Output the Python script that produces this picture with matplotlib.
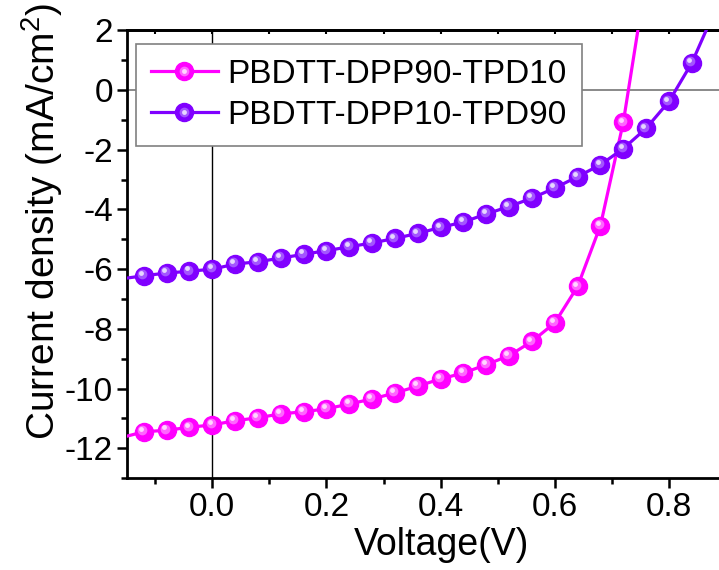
import numpy as np
import matplotlib
matplotlib.use('Agg')
import matplotlib.pyplot as plt
from matplotlib.ticker import MultipleLocator, FormatStrFormatter
from matplotlib.legend_handler import HandlerTuple
import matplotlib.transforms as mtransforms

plt.rcParams['font.family'] = ['Liberation Sans', 'DejaVu Sans']
plt.rcParams['mathtext.fontset'] = 'custom'
plt.rcParams['mathtext.rm'] = 'Liberation Sans'
plt.rcParams['mathtext.default'] = 'regular'
plt.rcParams['axes.unicode_minus'] = False

# measured points (V, mA/cm2)
voltage = [-0.12, -0.08, -0.04, 0.00, 0.04, 0.08, 0.12, 0.16, 0.20, 0.24, 0.28,
           0.32, 0.36, 0.40, 0.44, 0.48, 0.52, 0.56, 0.60, 0.64, 0.68, 0.72,
           0.76, 0.80, 0.84]
j_dpp90 = [-11.45, -11.40, -11.30, -11.22, -11.08, -10.98, -10.85, -10.78,
           -10.68, -10.52, -10.35, -10.15, -9.92, -9.68, -9.48, -9.20, -8.90,
           -8.42, -7.80, -6.58, -4.54, -1.08]
j_dpp10 = [-6.22, -6.13, -6.07, -6.00, -5.83, -5.75, -5.63, -5.50, -5.38,
           -5.25, -5.12, -4.97, -4.80, -4.60, -4.42, -4.15, -3.90, -3.62,
           -3.28, -2.90, -2.50, -1.96, -1.28, -0.38, 0.91]

# ends of the fitted curves outside the marker range
v_start = -0.15
j90_start, j10_start = -11.6, -6.3
v90_end, j90_end = 0.748, 2.3
v10_end, j10_end = 0.872, 2.3

labels = ['PBDTT-DPP90-TPD10', 'PBDTT-DPP10-TPD90']
colors = ['#FF00FF', '#8000FF']
mids = ['#FF66FF', '#A355FF']
hilite = ['#FFD6FF', '#E6D6FF']

fig = plt.figure(figsize=(7.19, 5.70), dpi=100)
ax = fig.add_axes([0.1762, 0.1614, 0.8238, 0.7851])

ax.axhline(0, color='#808080', lw=1.3, zorder=1)
ax.axvline(0, color='black', lw=1.0, zorder=1)

series = [(voltage[:len(j_dpp90)], j_dpp90, j90_start, v90_end, j90_end),
          (voltage, j_dpp10, j10_start, v10_end, j10_end)]
handles = []
off1 = mtransforms.offset_copy(ax.transData, fig=fig, x=-1.2, y=1.2, units='points')
off2 = mtransforms.offset_copy(ax.transData, fig=fig, x=-2.0, y=2.0, units='points')
for i, (v, j, js, ve, je) in enumerate(series):
    lx = [v_start] + list(v) + [ve]
    ly = [js] + list(j) + [je]
    ax.plot(lx, ly, color=colors[i], lw=2.3, zorder=3)
    m, = ax.plot(v, j, 'o', ms=13, color=colors[i], mec=colors[i], zorder=4)
    h1, = ax.plot(v, j, 'o', ms=7, color=mids[i], mew=0, transform=off1, zorder=5)
    h2, = ax.plot(v, j, 'o', ms=3.5, color=hilite[i], mew=0, transform=off2, zorder=6)
    ln, = ax.plot([], [], color=colors[i], lw=2.3)
    handles.append((ln, m, h1, h2))

ax.set_xlim(-0.15, 0.8877)
ax.set_ylim(-13, 2)
ax.xaxis.set_major_locator(MultipleLocator(0.2))
ax.xaxis.set_minor_locator(MultipleLocator(0.1))
ax.yaxis.set_major_locator(MultipleLocator(2))
ax.yaxis.set_minor_locator(MultipleLocator(1))
ax.xaxis.set_major_formatter(FormatStrFormatter('%.1f'))

for s in ['left', 'bottom', 'top']:
    ax.spines[s].set_linewidth(2.0)
ax.spines['right'].set_visible(False)

ax.tick_params(which='major', direction='out', length=7, width=1.8,
               labelsize=24, pad=3)
ax.tick_params(which='minor', direction='out', length=4, width=1.8)

# small inward ticks on the top edge
top = ax.secondary_xaxis('top')
top.xaxis.set_major_locator(MultipleLocator(0.1))
top.tick_params(direction='in', length=3, width=1.5, labeltop=False)
top.spines['top'].set_linewidth(2.0)

ax.set_xlabel('Voltage(V)', fontsize=27, va='center')
ax.xaxis.set_label_coords(0.531, -0.15)
ax.set_ylabel('Current density (mA/cm$^2$)', fontsize=28, va='center')
ax.yaxis.set_label_coords(-0.143, 0.574)

leg = ax.legend(handles, labels, loc='upper left', bbox_to_anchor=(0.0157, 0.97),
                borderaxespad=0, fontsize=24, handlelength=2.0, handletextpad=0.3,
                labelspacing=0.3, borderpad=0.45, fancybox=False, framealpha=1,
                edgecolor='#808080', numpoints=1,
                handler_map={tuple: HandlerTuple(ndivide=1, pad=0)})
leg.get_frame().set_linewidth(1.2)

fig.savefig('out.png', dpi=100)
